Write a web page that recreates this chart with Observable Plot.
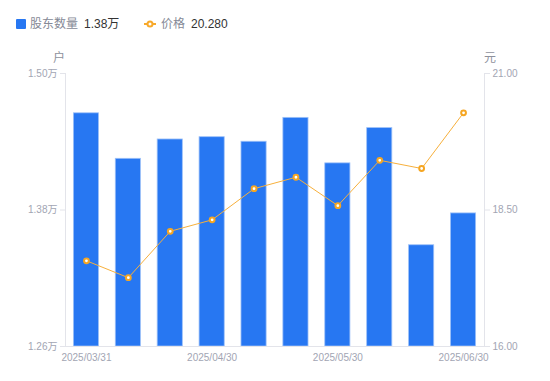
<!DOCTYPE html>
<html>
<head>
<meta charset="utf-8">
<script src="https://cdn.jsdelivr.net/npm/d3@7"></script>
<script src="https://cdn.jsdelivr.net/npm/@observablehq/plot@0.6"></script>
<style>
  html, body { margin: 0; padding: 0; background: #fff; }
  body { font-family: "Liberation Sans", "Noto Sans CJK SC", sans-serif; }
  #wrap { position: relative; width: 550px; height: 381px; }
  .leg { position: absolute; top: 15px; font-size: 12px; line-height: 18px; white-space: nowrap; display: flex; align-items: center; }
  .leg .lab { color: #858996; margin-right: 6px; }
  .leg .val { color: #333; }
  .unit { position: absolute; top: 48px; font-size: 12px; color: #8e919c; }
  #chart { position: absolute; left: 0; top: 0; }
</style>
</head>
<body>
<div id="wrap">
  <div class="leg" style="left:16px"><span style="display:inline-block;width:10px;height:10px;background:#2777f2;border-radius:1px;margin-right:4px"></span><span class="lab">股东数量</span><span class="val">1.38万</span></div>
  <div class="leg" style="left:144px"><svg width="12" height="10" style="margin-right:5px"><line x1="0" y1="5" x2="12" y2="5" stroke="#f7a92b" stroke-width="2"/><circle cx="6" cy="5" r="2.5" fill="#fff" stroke="#f7a92b" stroke-width="2"/></svg><span class="lab">价格</span><span class="val">20.280</span></div>
  <div class="unit" style="left:53px">户</div>
  <div class="unit" style="left:484px">元</div>
  <div id="chart"></div>
</div>
<script>
const dates = ["2025/03/31","2025/04/10","2025/04/18","2025/04/30","2025/05/09","2025/05/20","2025/05/30","2025/06/10","2025/06/20","2025/06/30"];
const holders = [1.465, 1.425, 1.442, 1.444, 1.440, 1.461, 1.421, 1.452, 1.349, 1.377]; // 万户
const prices = [17.57, 17.26, 18.11, 18.32, 18.89, 19.10, 18.58, 19.41, 19.26, 20.28]; // 元
const leftTicks = [1.26, 1.38, 1.50];
const rightTicks = [16.00, 18.50, 21.00];
const xTickLabels = ["2025/03/31","2025/04/30","2025/05/30","2025/06/30"];

const yMin = leftTicks[0], yMax = leftTicks[leftTicks.length - 1];
const pMin = rightTicks[0], pMax = rightTicks[rightTicks.length - 1];
const toLeft = p => yMin + (p - pMin) / (pMax - pMin) * (yMax - yMin);
const toRight = v => pMin + (v - yMin) / (yMax - yMin) * (pMax - pMin);

const data = dates.map((d, i) => ({date: d, h: holders[i], p: prices[i], pl: toLeft(prices[i])}));

const axisColor = "#e3e4ea";
const tickText = "#a2a5b3";

const chart = Plot.plot({
  width: 550,
  height: 381,
  marginTop: 73,
  marginBottom: 35,
  marginLeft: 65,
  marginRight: 66,
  style: {fontFamily: '"Liberation Sans", "Noto Sans CJK SC", sans-serif', fontSize: "10px", background: "transparent"},
  x: {type: "band", domain: dates, paddingInner: 0.4, paddingOuter: 0.2, round: false},
  y: {domain: [yMin, yMax]},
  marks: [
    Plot.barY(data, {x: "date", y1: () => yMin, y2: "h", fill: "#2777f2", stroke: "#9dc1f8", strokeWidth: 0.8}),
    Plot.frame({anchor: "left", stroke: axisColor}),
    Plot.frame({anchor: "right", stroke: axisColor}),
    Plot.frame({anchor: "bottom", stroke: axisColor}),
    Plot.axisY({anchor: "left", ticks: leftTicks, tickFormat: d => d.toFixed(2) + "万", tickSize: 5, tickPadding: 3, stroke: axisColor, fill: tickText, label: null}),
    Plot.axisY({anchor: "right", ticks: leftTicks, tickFormat: d => toRight(d).toFixed(2), tickSize: 5, tickPadding: 3, stroke: axisColor, fill: tickText, label: null}),
    Plot.axisX({anchor: "bottom", ticks: xTickLabels, tickSize: 0, tickPadding: 7, fill: tickText, label: null}),
    Plot.line(data, {x: "date", y: "pl", stroke: "#f7b03c", strokeWidth: 1}),
    Plot.dot(data, {x: "date", y: "pl", r: 2.4, fill: "#fff", stroke: "#f5a623", strokeWidth: 2})
  ]
});
document.getElementById("chart").appendChild(chart);
</script>
</body>
</html>
